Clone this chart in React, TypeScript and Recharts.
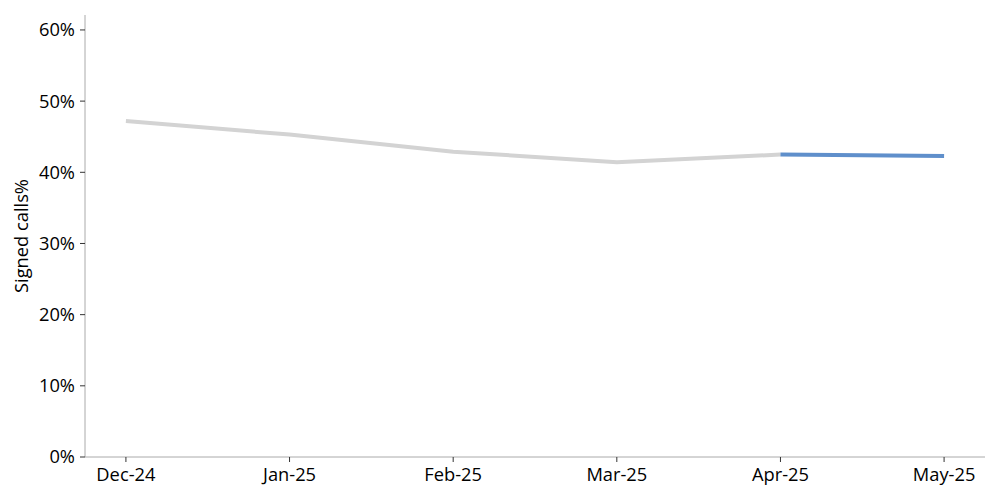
import React from 'react';
import { LineChart, Line, XAxis, YAxis, Label } from 'recharts';

const months = ['Dec-24', 'Jan-25', 'Feb-25', 'Mar-25', 'Apr-25', 'May-25'];
const history = [0.472, 0.453, 0.429, 0.414, 0.425, null];
const latest = [null, null, null, null, 0.425, 0.423];
const yTicks = [0, 0.1, 0.2, 0.3, 0.4, 0.5, 0.6];
const xTicks = [0, 1, 2, 3, 4, 5];

const data = months.map((m, i) => ({ idx: i, month: m, history: history[i], latest: latest[i] }));

const font = '"Open Sans", sans-serif';

export default function App() {
  return (
    <div style={{ position: 'absolute', left: 0, top: 0, width: 1000, height: 500, background: '#fff' }}>
      <LineChart width={1000} height={500} data={data} margin={{ top: 15, right: 15, bottom: 13, left: 0 }}>
        <XAxis
          dataKey="idx"
          type="number"
          domain={[-0.25, 5.25]}
          ticks={xTicks}
          tickFormatter={(v: number) => months[v]}
          stroke="#aaaaaa"
          tickLine={{ stroke: '#333' }}
          tickSize={5}
          tickMargin={6}
          height={30}
          tick={{ fill: '#000', fontSize: 18.3, fontFamily: font }}
          allowDataOverflow
        />
        <YAxis
          type="number"
          domain={[0, 0.621]}
          ticks={yTicks}
          tickFormatter={(v: number) => `${Math.round(v * 100)}%`}
          width={85}
          stroke="#aaaaaa"
          tickLine={{ stroke: '#333' }}
          tickSize={5}
          tickMargin={5}
          tick={{ fill: '#000', fontSize: 18.3, fontFamily: font }}
          allowDataOverflow
        >
          <Label
            value="Signed calls%"
            angle={-90}
            position="insideLeft"
            offset={22}
            style={{ textAnchor: 'middle', fill: '#000', fontSize: 18.3, fontFamily: font }}
          />
        </YAxis>
        <Line dataKey="history" stroke="#d3d3d3" strokeWidth={4} dot={false} isAnimationActive={false} connectNulls={false} />
        <Line dataKey="latest" stroke="#5f8fcb" strokeWidth={4} dot={false} isAnimationActive={false} connectNulls={false} />
      </LineChart>
    </div>
  );
}
